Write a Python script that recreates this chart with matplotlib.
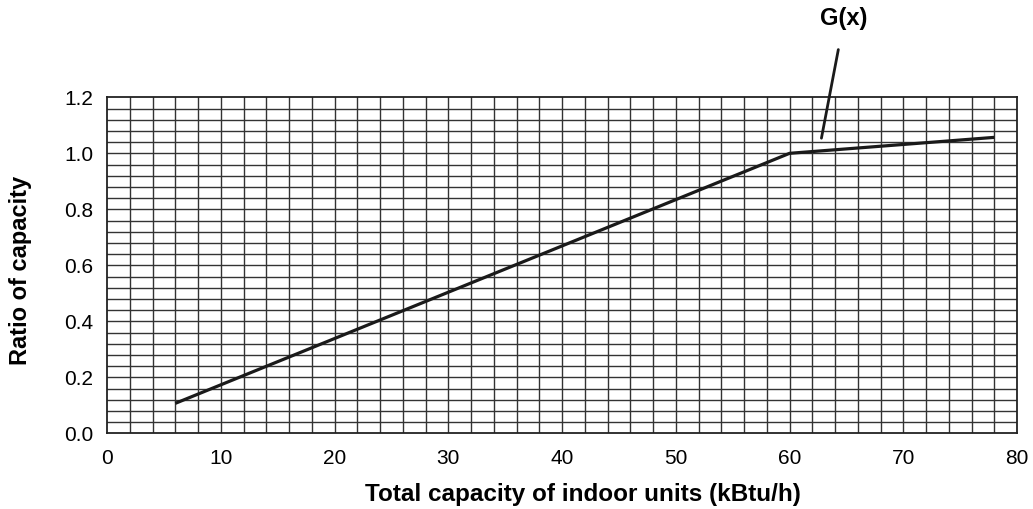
import numpy as np
import matplotlib.pyplot as plt

plt.rcParams['font.family'] = ['Liberation Sans', 'DejaVu Sans']

# G(x) curve
capacity = [6, 60, 78]          # kBtu/h
ratio = [0.107, 1.0, 1.057]

x_ticks = np.arange(0, 81, 10)
y_ticks = np.arange(0, 1.21, 0.2)

fig = plt.figure(figsize=(10.33, 5.09), dpi=100)
ax = fig.add_axes([0.1036, 0.1487, 0.881, 0.6601])

# fine grid: every 2 kBtu/h and every 0.04
for gx in np.arange(2, 80, 2):
    ax.axvline(gx, color='#333333', lw=1.0, zorder=1)
for gy in np.arange(0.04, 1.2, 0.04):
    ax.axhline(gy, color='#333333', lw=1.0, zorder=1)

ax.plot(capacity, ratio, color='#1a1a1a', lw=2.3, solid_capstyle='butt', zorder=3)

ax.set_xlim(0, 80)
ax.set_ylim(0, 1.2)
ax.set_xticks(x_ticks)
ax.set_yticks(y_ticks)
ax.set_yticklabels([f'{v:.1f}' for v in y_ticks])
ax.tick_params(length=0, labelsize=15)
ax.tick_params(axis='y', pad=10)
ax.tick_params(axis='x', pad=11)
for s in ax.spines.values():
    s.set_linewidth(1.3)
    s.set_color('#222222')

ax.set_xlabel('Total capacity of indoor units (kBtu/h)', fontsize=17.5, fontweight='bold')
ax.xaxis.set_label_coords(0.523, -0.148)
ax.set_ylabel('Ratio of capacity', fontsize=17, fontweight='bold')
ax.yaxis.set_label_coords(-0.082, 0.485)

# G(x) callout
ax.annotate('G(x)', xy=(62.8, 1.054), xytext=(64.8, 1.48), fontsize=17, fontweight='bold',
            ha='center', va='center', annotation_clip=False,
            arrowprops=dict(arrowstyle='-', color='#1a1a1a', lw=2, shrinkA=12, shrinkB=0))

fig.savefig('out.png', dpi=100)
